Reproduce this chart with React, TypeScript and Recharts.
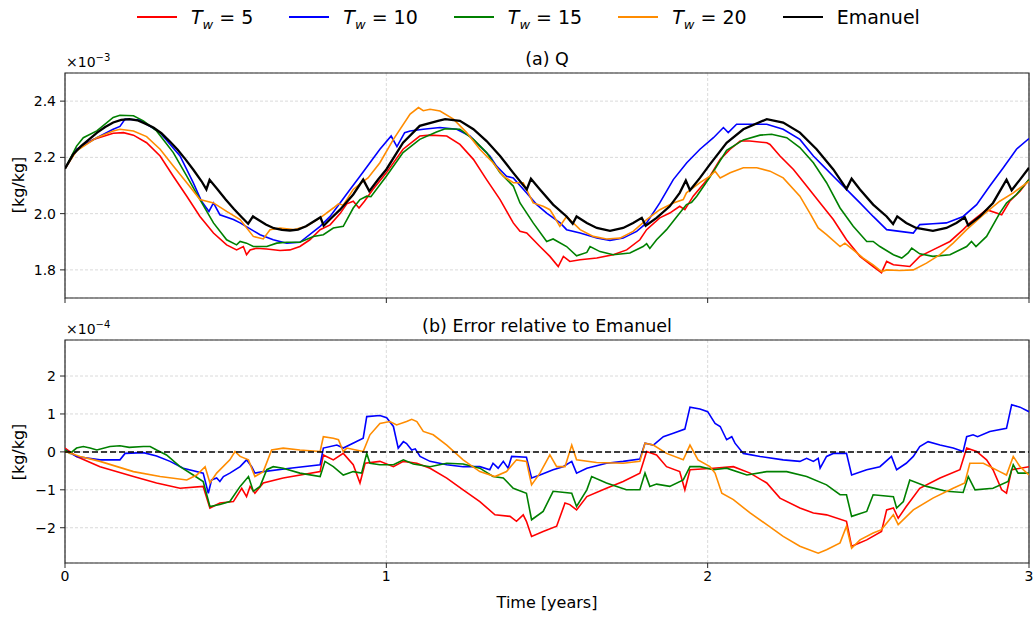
import { LineChart, Line, XAxis, YAxis, CartesianGrid, ReferenceArea, ReferenceLine } from "recharts";

// time [years], specific humidity Q [x1e-3 kg/kg]
const qEmanuel: [number, number][] = [
  [0, 2.16], [0.025, 2.21], [0.05, 2.24], [0.075, 2.264], [0.1, 2.288], [0.125, 2.308], [0.15, 2.324], [0.175, 2.333],
  [0.2, 2.336], [0.225, 2.332], [0.25, 2.32], [0.275, 2.306], [0.3, 2.286], [0.325, 2.258], [0.35, 2.228], [0.375, 2.193],
  [0.4, 2.155], [0.425, 2.115], [0.44, 2.086], [0.45, 2.12], [0.475, 2.086], [0.5, 2.05], [0.525, 2.017], [0.55, 1.987],
  [0.57, 1.964], [0.585, 1.99], [0.6, 1.979], [0.625, 1.961], [0.65, 1.948], [0.675, 1.942], [0.7, 1.94], [0.725, 1.943],
  [0.75, 1.955], [0.775, 1.973], [0.795, 1.987], [0.805, 1.957], [0.825, 1.98], [0.856, 2.014], [0.897, 2.068],
  [0.928, 2.121], [0.947, 2.08], [0.975, 2.122], [1.0, 2.157], [1.052, 2.252], [1.104, 2.312], [1.161, 2.33],
  [1.183, 2.336], [1.229, 2.33], [1.271, 2.3], [1.312, 2.258], [1.354, 2.205], [1.395, 2.145], [1.437, 2.086], [1.45, 2.124],
  [1.478, 2.086], [1.519, 2.032], [1.561, 1.99], [1.58, 1.964], [1.592, 1.99], [1.624, 1.967], [1.655, 1.949],
  [1.696, 1.939], [1.737, 1.949], [1.768, 1.967], [1.795, 1.985], [1.807, 1.957], [1.841, 1.985], [1.882, 2.026],
  [1.913, 2.074], [1.932, 2.118], [1.945, 2.083], [1.976, 2.127], [2.007, 2.175], [2.059, 2.252], [2.111, 2.3],
  [2.184, 2.336], [2.235, 2.324], [2.287, 2.288], [2.339, 2.229], [2.391, 2.157], [2.432, 2.088], [2.448, 2.124],
  [2.474, 2.086], [2.515, 2.032], [2.557, 1.99], [2.577, 1.963], [2.59, 1.99], [2.618, 1.967], [2.649, 1.949],
  [2.701, 1.939], [2.743, 1.949], [2.774, 1.967], [2.8, 1.987], [2.811, 1.958], [2.847, 1.99], [2.888, 2.038],
  [2.93, 2.121], [2.946, 2.083], [2.972, 2.121], [3.0, 2.163],
];

const qTw5: [number, number][] = [
  [0, 2.16], [0.036, 2.229], [0.088, 2.264], [0.15, 2.286], [0.182, 2.288], [0.213, 2.279], [0.254, 2.252], [0.296, 2.205],
  [0.337, 2.133], [0.379, 2.062], [0.42, 1.99], [0.462, 1.931], [0.503, 1.889], [0.534, 1.871], [0.555, 1.883],
  [0.565, 1.854], [0.576, 1.871], [0.596, 1.877], [0.628, 1.874], [0.669, 1.869], [0.7, 1.871], [0.731, 1.883],
  [0.762, 1.907], [0.794, 1.943], [0.825, 1.96], [0.856, 2.0], [0.877, 2.035], [0.897, 2.044], [0.915, 2.02],
  [0.932, 2.044], [0.958, 2.086], [1.0, 2.145], [1.052, 2.229], [1.104, 2.276], [1.136, 2.279], [1.188, 2.276],
  [1.229, 2.246], [1.271, 2.193], [1.312, 2.121], [1.354, 2.05], [1.395, 1.967], [1.416, 1.937], [1.437, 1.931],
  [1.478, 1.883], [1.509, 1.848], [1.535, 1.812], [1.551, 1.848], [1.571, 1.83], [1.603, 1.836], [1.655, 1.842],
  [1.706, 1.854], [1.748, 1.871], [1.789, 1.907], [1.81, 1.943], [1.851, 1.985], [1.882, 2.002], [1.913, 2.026],
  [1.929, 2.014], [1.955, 2.062], [2.007, 2.133], [2.039, 2.193], [2.07, 2.229], [2.101, 2.258], [2.131, 2.258],
  [2.184, 2.252], [2.194, 2.246], [2.225, 2.205], [2.267, 2.157], [2.308, 2.098], [2.35, 2.038], [2.391, 1.979],
  [2.432, 1.907], [2.474, 1.848], [2.515, 1.812], [2.541, 1.79], [2.557, 1.83], [2.578, 1.818], [2.629, 1.812],
  [2.66, 1.848], [2.701, 1.871], [2.754, 1.901], [2.795, 1.943], [2.816, 1.967], [2.868, 2.014], [2.915, 1.996],
  [2.94, 2.044], [2.972, 2.08], [3.0, 2.121],
];

const qTw10: [number, number][] = [
  [0, 2.16], [0.036, 2.229], [0.099, 2.27], [0.15, 2.3], [0.171, 2.31], [0.187, 2.336], [0.233, 2.333], [0.296, 2.288],
  [0.358, 2.205], [0.399, 2.11], [0.425, 2.044], [0.448, 2.008], [0.462, 2.038], [0.482, 1.996], [0.524, 1.979],
  [0.545, 1.967], [0.607, 1.925], [0.648, 1.907], [0.69, 1.895], [0.731, 1.898], [0.794, 1.955], [0.825, 1.99],
  [0.856, 2.038], [0.887, 2.086], [0.918, 2.133], [0.949, 2.181], [0.98, 2.229], [1.015, 2.276], [1.033, 2.238],
  [1.057, 2.288], [1.074, 2.294], [1.115, 2.3], [1.167, 2.306], [1.219, 2.3], [1.26, 2.276], [1.291, 2.24],
  [1.322, 2.205], [1.343, 2.169], [1.374, 2.133], [1.395, 2.127], [1.436, 2.074], [1.468, 2.032], [1.499, 2.002],
  [1.541, 1.967], [1.561, 1.943], [1.603, 1.931], [1.655, 1.913], [1.696, 1.905], [1.737, 1.913], [1.779, 1.937],
  [1.81, 1.967], [1.851, 2.038], [1.893, 2.121], [1.935, 2.181], [1.976, 2.229], [2.018, 2.27], [2.049, 2.306],
  [2.064, 2.288], [2.09, 2.318], [2.131, 2.318], [2.184, 2.318], [2.235, 2.3], [2.287, 2.264], [2.329, 2.205],
  [2.36, 2.169], [2.391, 2.133], [2.432, 2.086], [2.474, 2.038], [2.515, 1.99], [2.557, 1.943], [2.598, 1.937],
  [2.64, 1.931], [2.66, 1.961], [2.701, 1.964], [2.743, 1.967], [2.795, 1.99], [2.837, 2.032], [2.878, 2.098],
  [2.92, 2.163], [2.961, 2.229], [3.0, 2.267],
];

const qTw15: [number, number][] = [
  [0, 2.16], [0.036, 2.24], [0.057, 2.27], [0.099, 2.294], [0.15, 2.342], [0.171, 2.35], [0.213, 2.348], [0.244, 2.33],
  [0.285, 2.294], [0.337, 2.217], [0.379, 2.133], [0.42, 2.05], [0.462, 1.967], [0.503, 1.907], [0.534, 1.889],
  [0.545, 1.901], [0.565, 1.895], [0.586, 1.883], [0.628, 1.883], [0.659, 1.895], [0.69, 1.898], [0.731, 1.898],
  [0.773, 1.919], [0.804, 1.925], [0.835, 1.949], [0.866, 1.955], [0.897, 2.02], [0.918, 2.05], [0.939, 2.062],
  [0.952, 2.06], [1.0, 2.133], [1.052, 2.217], [1.104, 2.264], [1.156, 2.29], [1.183, 2.302], [1.229, 2.3],
  [1.271, 2.264], [1.312, 2.217], [1.354, 2.145], [1.395, 2.098], [1.416, 2.038], [1.457, 1.967], [1.499, 1.901],
  [1.519, 1.91], [1.561, 1.883], [1.592, 1.85], [1.624, 1.862], [1.634, 1.883], [1.665, 1.865], [1.706, 1.854],
  [1.758, 1.86], [1.799, 1.883], [1.81, 1.893], [1.82, 1.876], [1.841, 1.907], [1.872, 1.943], [1.913, 2.002],
  [1.934, 2.032], [1.95, 2.04], [1.966, 2.062], [2.007, 2.13], [2.059, 2.225], [2.111, 2.262], [2.163, 2.279],
  [2.199, 2.282], [2.246, 2.27], [2.287, 2.235], [2.329, 2.181], [2.37, 2.11], [2.412, 2.02], [2.453, 1.955],
  [2.495, 1.901], [2.515, 1.901], [2.536, 1.883], [2.578, 1.854], [2.604, 1.842], [2.624, 1.86], [2.635, 1.877],
  [2.66, 1.857], [2.701, 1.848], [2.754, 1.854], [2.806, 1.883], [2.821, 1.901], [2.835, 1.883], [2.868, 1.919],
  [2.909, 2.002], [2.93, 2.038], [2.961, 2.068], [3.0, 2.121],
];

const qTw20: [number, number][] = [
  [0, 2.16], [0.036, 2.223], [0.099, 2.27], [0.15, 2.294], [0.171, 2.3], [0.213, 2.294], [0.254, 2.274], [0.296, 2.229],
  [0.337, 2.169], [0.379, 2.11], [0.42, 2.05], [0.441, 2.044], [0.462, 2.038], [0.503, 2.008], [0.545, 1.979],
  [0.586, 1.919], [0.617, 1.91], [0.638, 1.943], [0.669, 1.949], [0.711, 1.943], [0.752, 1.955], [0.794, 1.985],
  [0.835, 2.02], [0.851, 2.035], [0.866, 2.03], [0.897, 2.086], [0.928, 2.115], [0.943, 2.127], [0.98, 2.181],
  [1.022, 2.264], [1.074, 2.354], [1.1, 2.377], [1.115, 2.366], [1.136, 2.371], [1.167, 2.365], [1.209, 2.336],
  [1.25, 2.288], [1.291, 2.229], [1.332, 2.181], [1.364, 2.133], [1.395, 2.11], [1.426, 2.11], [1.457, 2.038],
  [1.488, 2.026], [1.509, 2.014], [1.519, 1.996], [1.54, 1.955], [1.561, 1.99], [1.603, 1.943], [1.644, 1.919],
  [1.685, 1.91], [1.727, 1.913], [1.768, 1.937], [1.81, 1.979], [1.851, 2.014], [1.893, 2.038], [1.924, 2.05],
  [1.934, 2.074], [1.976, 2.11], [2.007, 2.133], [2.023, 2.151], [2.039, 2.127], [2.07, 2.145], [2.111, 2.163],
  [2.153, 2.163], [2.194, 2.151], [2.235, 2.127], [2.287, 2.062], [2.318, 2.002], [2.344, 1.949], [2.37, 1.925],
  [2.412, 1.883], [2.427, 1.895], [2.453, 1.871], [2.484, 1.842], [2.515, 1.818], [2.541, 1.794], [2.557, 1.8],
  [2.598, 1.798], [2.64, 1.8], [2.681, 1.824], [2.723, 1.854], [2.764, 1.895], [2.806, 1.943], [2.858, 1.996],
  [2.909, 2.044], [2.951, 2.074], [3.0, 2.115],
];

// error relative to Emanuel [x1e-4 kg/kg]
const errTw5: [number, number][] = [
  [0, 0.1], [0.036, -0.12], [0.109, -0.39], [0.213, -0.65], [0.285, -0.82], [0.358, -0.96], [0.43, -0.91], [0.451, -1.48],
  [0.482, -1.35], [0.524, -1.31], [0.55, -0.96], [0.565, -1.18], [0.576, -0.91], [0.591, -1.09], [0.617, -0.82],
  [0.679, -0.69], [0.794, -0.52], [0.804, -0.08], [0.835, -0.21], [0.866, -0.04], [0.897, -0.34], [0.918, -0.82],
  [0.934, -0.3], [0.98, -0.25], [1.022, -0.39], [1.053, -0.25], [1.095, -0.3], [1.136, -0.43], [1.188, -0.69],
  [1.239, -1.0], [1.291, -1.31], [1.338, -1.66], [1.385, -1.7], [1.405, -1.83], [1.426, -1.66], [1.436, -1.83],
  [1.452, -2.23], [1.488, -2.1], [1.53, -1.96], [1.556, -1.35], [1.571, -1.39], [1.592, -1.53], [1.624, -1.18],
  [1.685, -0.96], [1.737, -0.78], [1.789, -0.56], [1.81, 0.01], [1.841, -0.08], [1.872, -0.39], [1.913, -0.52],
  [1.929, -1.0], [1.945, -0.47], [2.018, -0.43], [2.08, -0.39], [2.132, -0.56], [2.184, -0.82], [2.225, -1.22],
  [2.287, -1.48], [2.329, -1.61], [2.37, -1.66], [2.432, -1.83], [2.448, -2.49], [2.495, -2.32], [2.541, -2.1],
  [2.557, -1.53], [2.578, -1.48], [2.593, -1.75], [2.618, -1.44], [2.66, -0.96], [2.723, -0.69], [2.785, -0.47],
  [2.806, 0.1], [2.837, 0.01], [2.868, -0.21], [2.888, -0.47], [2.915, -1.0], [2.93, -1.09], [2.946, -0.47], [3.0, -0.39],
];

const errTw10: [number, number][] = [
  [0, 0.05], [0.036, -0.12], [0.109, -0.21], [0.171, -0.21], [0.187, -0.04], [0.244, -0.02], [0.285, -0.11], [0.327, -0.25],
  [0.368, -0.43], [0.43, -0.56], [0.446, -1.09], [0.456, -0.74], [0.472, -0.69], [0.482, -0.78], [0.493, -0.65],
  [0.513, -0.56], [0.545, -0.39], [0.565, -0.21], [0.581, -0.39], [0.591, -0.56], [0.617, -0.52], [0.7, -0.43],
  [0.794, -0.34], [0.804, 0.1], [0.846, 0.18], [0.866, 0.1], [0.928, 0.36], [0.939, 0.93], [0.98, 0.96], [1.001, 0.9],
  [1.022, 0.67], [1.037, 0.1], [1.053, 0.27], [1.063, 0.22], [1.079, 0.05], [1.09, 0.08], [1.105, -0.12], [1.136, -0.25],
  [1.188, -0.34], [1.239, -0.39], [1.291, -0.39], [1.322, -0.47], [1.332, -0.3], [1.348, -0.43], [1.364, -0.25],
  [1.379, -0.43], [1.39, -0.12], [1.436, -0.14], [1.452, -0.69], [1.478, -0.61], [1.519, -0.47], [1.55, -0.39],
  [1.577, -0.25], [1.592, -0.56], [1.624, -0.43], [1.685, -0.3], [1.737, -0.25], [1.789, -0.19], [1.805, 0.23],
  [1.831, 0.18], [1.862, 0.4], [1.893, 0.49], [1.929, 0.6], [1.945, 1.18], [1.976, 1.13], [2.0, 1.06], [2.023, 0.75],
  [2.039, 0.67], [2.059, 0.32], [2.075, 0.4], [2.085, 0.23], [2.111, -0.04], [2.163, -0.12], [2.235, -0.21],
  [2.287, -0.25], [2.308, -0.17], [2.329, -0.25], [2.344, -0.17], [2.35, -0.43], [2.37, -0.12], [2.391, -0.04],
  [2.432, -0.04], [2.448, -0.61], [2.495, -0.47], [2.536, -0.39], [2.572, -0.12], [2.588, -0.47], [2.618, -0.3],
  [2.64, -0.12], [2.66, 0.14], [2.686, 0.27], [2.723, 0.18], [2.764, 0.1], [2.795, 0.01], [2.806, 0.4], [2.826, 0.45],
  [2.84, 0.4], [2.878, 0.54], [2.93, 0.62], [2.946, 1.24], [2.972, 1.18], [3.0, 1.06],
];

const errTw15: [number, number][] = [
  [0, 0.05], [0.016, -0.04], [0.036, 0.1], [0.057, 0.14], [0.078, 0.1], [0.099, 0.05], [0.14, 0.14], [0.171, 0.16],
  [0.2, 0.12], [0.244, 0.14], [0.265, 0.14], [0.285, 0.05], [0.316, -0.08], [0.358, -0.39], [0.399, -0.61], [0.43, -0.78],
  [0.451, -1.44], [0.482, -1.39], [0.513, -1.31], [0.545, -0.91], [0.571, -0.65], [0.586, -1.04], [0.607, -0.91],
  [0.628, -0.47], [0.648, -0.39], [0.679, -0.43], [0.731, -0.56], [0.794, -0.65], [0.809, -0.25], [0.835, -0.39],
  [0.866, -0.61], [0.897, -0.52], [0.923, -0.56], [0.939, -0.04], [0.949, -0.3], [0.98, -0.34], [1.022, -0.34],
  [1.053, -0.21], [1.084, -0.32], [1.136, -0.39], [1.188, -0.3], [1.239, -0.32], [1.291, -0.43], [1.332, -0.65],
  [1.364, -0.69], [1.395, -0.96], [1.436, -1.09], [1.452, -1.79], [1.488, -1.57], [1.519, -1.04], [1.577, -1.09],
  [1.592, -1.44], [1.624, -1.0], [1.639, -0.65], [1.685, -0.82], [1.747, -1.0], [1.789, -1.0], [1.805, -0.56],
  [1.82, -0.91], [1.841, -0.85], [1.882, -0.91], [1.924, -0.74], [1.945, -0.39], [1.976, -0.39], [2.018, -0.47],
  [2.059, -0.43], [2.122, -0.61], [2.184, -0.52], [2.246, -0.52], [2.308, -0.65], [2.37, -0.87], [2.412, -1.13],
  [2.432, -1.13], [2.448, -1.7], [2.495, -1.57], [2.515, -1.13], [2.578, -1.18], [2.588, -1.48], [2.609, -1.31],
  [2.629, -0.74], [2.681, -0.91], [2.743, -1.04], [2.795, -1.07], [2.811, -0.65], [2.832, -1.0], [2.888, -0.96],
  [2.935, -0.78], [2.951, -0.34], [2.966, -0.56], [3.0, -0.56],
];

const errTw20: [number, number][] = [
  [0, 0.01], [0.047, -0.12], [0.109, -0.25], [0.213, -0.52], [0.296, -0.65], [0.379, -0.74], [0.41, -0.61], [0.436, -0.39],
  [0.451, -0.82], [0.472, -0.56], [0.513, -0.21], [0.529, 0.01], [0.545, -0.12], [0.571, -0.21], [0.591, -0.65],
  [0.617, -0.52], [0.643, 0.05], [0.679, 0.1], [0.731, 0.05], [0.794, 0.01], [0.804, 0.4], [0.835, 0.36], [0.851, 0.32],
  [0.866, 0.01], [0.877, 0.1], [0.928, 0.01], [0.949, 0.45], [0.98, 0.75], [1.011, 0.8], [1.032, 0.71], [1.063, 0.8],
  [1.079, 0.86], [1.095, 0.8], [1.115, 0.54], [1.146, 0.45], [1.188, 0.18], [1.239, -0.21], [1.291, -0.52],
  [1.338, -0.65], [1.374, -0.52], [1.405, -0.21], [1.436, -0.25], [1.452, -0.87], [1.478, -0.56], [1.509, -0.08],
  [1.53, -0.39], [1.556, -0.39], [1.577, 0.18], [1.592, -0.21], [1.654, -0.28], [1.737, -0.3], [1.789, -0.25],
  [1.805, 0.23], [1.831, 0.18], [1.872, -0.04], [1.924, -0.21], [1.945, 0.18], [1.97, -0.21], [2.007, -0.39],
  [2.023, -0.56], [2.044, -1.09], [2.08, -1.26], [2.132, -1.61], [2.184, -1.92], [2.235, -2.23], [2.287, -2.49],
  [2.344, -2.67], [2.37, -2.58], [2.412, -2.4], [2.432, -1.96], [2.448, -2.54], [2.474, -2.32], [2.515, -2.14],
  [2.541, -2.05], [2.578, -1.66], [2.593, -1.92], [2.64, -1.53], [2.701, -1.22], [2.764, -0.96], [2.8, -0.82],
  [2.816, -0.3], [2.858, -0.3], [2.909, -0.52], [2.93, -0.61], [2.951, -0.12], [2.972, -0.39], [3.0, -0.61],
];

const xTicks = [0, 1, 2, 3];
const qTicks = [1.8, 2.0, 2.2, 2.4];
const errTicks = [-2, -1, 0, 1, 2];

const legendItems = [
  { sub: "5", color: "#ff0000" },
  { sub: "10", color: "#0000ff" },
  { sub: "15", color: "#008000" },
  { sub: "20", color: "#ff8c00" },
];

const toRows = (pts: [number, number][]) => pts.map(([t, v]) => ({ t, v }));
const minus = (v: number) => (v < 0 ? "\u2212" + Math.abs(v) : String(v));

const tickStyle = { fontSize: 14, fill: "#000" };
const frame = "#262626";

const series = (rows: [number, number][][], emanuel?: [number, number][]) => (
  <>
    <Line data={toRows(rows[0])} dataKey="v" type="linear" stroke="#ff0000" strokeWidth={1.6} dot={false} isAnimationActive={false} />
    <Line data={toRows(rows[1])} dataKey="v" type="linear" stroke="#0000ff" strokeWidth={1.6} dot={false} isAnimationActive={false} />
    <Line data={toRows(rows[2])} dataKey="v" type="linear" stroke="#008000" strokeWidth={1.6} dot={false} isAnimationActive={false} />
    <Line data={toRows(rows[3])} dataKey="v" type="linear" stroke="#ff8c00" strokeWidth={1.6} dot={false} isAnimationActive={false} />
    {emanuel && <Line data={toRows(emanuel)} dataKey="v" type="linear" stroke="#000" strokeWidth={2.3} dot={false} isAnimationActive={false} />}
  </>
);

const abs = (left: number, top: number, extra: object = {}) => ({ position: "absolute" as const, left, top, ...extra });

export default function App() {
  return (
    <div style={{ position: "absolute", left: 0, top: 0, width: 1035, height: 617, background: "#fff", fontFamily: '"DejaVu Sans", sans-serif', color: "#000" }}>
      {/* legend */}
      <div style={abs(137, 4, { display: "flex", alignItems: "center", height: 26, fontSize: 19, whiteSpace: "nowrap" })}>
        {legendItems.map((l) => (
          <div key={l.sub} style={{ display: "flex", alignItems: "center", marginRight: 36 }}>
            <span style={{ width: 40, height: 2, background: l.color, display: "inline-block", marginRight: 14 }} />
            <span>
              <i>T</i>
              <i style={{ fontSize: 13, position: "relative", top: 5 }}>w</i>
              {" = " + l.sub}
            </span>
          </div>
        ))}
        <div style={{ display: "flex", alignItems: "center" }}>
          <span style={{ width: 40, height: 2.5, background: "#000", display: "inline-block", marginRight: 14 }} />
          <span>Emanuel</span>
        </div>
      </div>

      {/* panel (a) */}
      <div style={abs(547, 59, { transform: "translate(-50%, -50%)", fontSize: 17.5, whiteSpace: "nowrap" })}>(a) Q</div>
      <div style={abs(66, 55, { fontSize: 14, lineHeight: "14px" })}>
        ×10<span style={{ fontSize: 10, position: "relative", top: -6 }}>−3</span>
      </div>
      <div style={abs(18, 185, { transform: "translate(-50%, -50%) rotate(-90deg)", fontSize: 16, whiteSpace: "nowrap" })}>[kg/kg]</div>
      <div style={abs(0, 0)}>
        <LineChart width={1035} height={310} margin={{ top: 73, right: 6, bottom: 0, left: 0 }}>
          <CartesianGrid stroke="#d0d0d0" strokeDasharray="3 2" strokeWidth={0.8} />
          <XAxis type="number" dataKey="t" domain={[0, 3]} ticks={xTicks} allowDataOverflow height={12} tickFormatter={() => ""} tickSize={5} axisLine={false} tickLine={{ stroke: frame }} />
          <YAxis type="number" domain={[1.7, 2.5]} ticks={qTicks} allowDataOverflow width={65} tickSize={5} tickMargin={4} axisLine={false} tickLine={{ stroke: frame }} tick={tickStyle} tickFormatter={(v: number) => v.toFixed(1)} />
          {series([qTw5, qTw10, qTw15, qTw20], qEmanuel)}
          <ReferenceArea x1={0} x2={3} y1={1.7} y2={2.5} fill="none" stroke={frame} strokeWidth={1.2} />
        </LineChart>
      </div>

      {/* panel (b) */}
      <div style={abs(547, 326, { transform: "translate(-50%, -50%)", fontSize: 17.5, whiteSpace: "nowrap" })}>(b) Error relative to Emanuel</div>
      <div style={abs(66, 322, { fontSize: 14, lineHeight: "14px" })}>
        ×10<span style={{ fontSize: 10, position: "relative", top: -6 }}>−4</span>
      </div>
      <div style={abs(18, 452, { transform: "translate(-50%, -50%) rotate(-90deg)", fontSize: 16, whiteSpace: "nowrap" })}>[kg/kg]</div>
      <div style={abs(547, 602, { transform: "translate(-50%, -50%)", fontSize: 16, whiteSpace: "nowrap" })}>Time [years]</div>
      <div style={abs(0, 300)}>
        <LineChart width={1035} height={317} margin={{ top: 40, right: 6, bottom: 0, left: 0 }}>
          <CartesianGrid stroke="#d0d0d0" strokeDasharray="3 2" strokeWidth={0.8} />
          <XAxis type="number" dataKey="t" domain={[0, 3]} ticks={xTicks} allowDataOverflow height={54} tickSize={5} tickMargin={3} axisLine={false} tickLine={{ stroke: frame }} tick={tickStyle} />
          <YAxis type="number" domain={[-2.93, 2.95]} ticks={errTicks} allowDataOverflow width={65} tickSize={5} tickMargin={4} axisLine={false} tickLine={{ stroke: frame }} tick={tickStyle} tickFormatter={minus} />
          {series([errTw5, errTw10, errTw15, errTw20])}
          <ReferenceLine y={0} stroke="#000" strokeDasharray="6 3" strokeWidth={1.5} />
          <ReferenceArea x1={0} x2={3} y1={-2.93} y2={2.95} fill="none" stroke={frame} strokeWidth={1.2} />
        </LineChart>
      </div>
    </div>
  );
}
